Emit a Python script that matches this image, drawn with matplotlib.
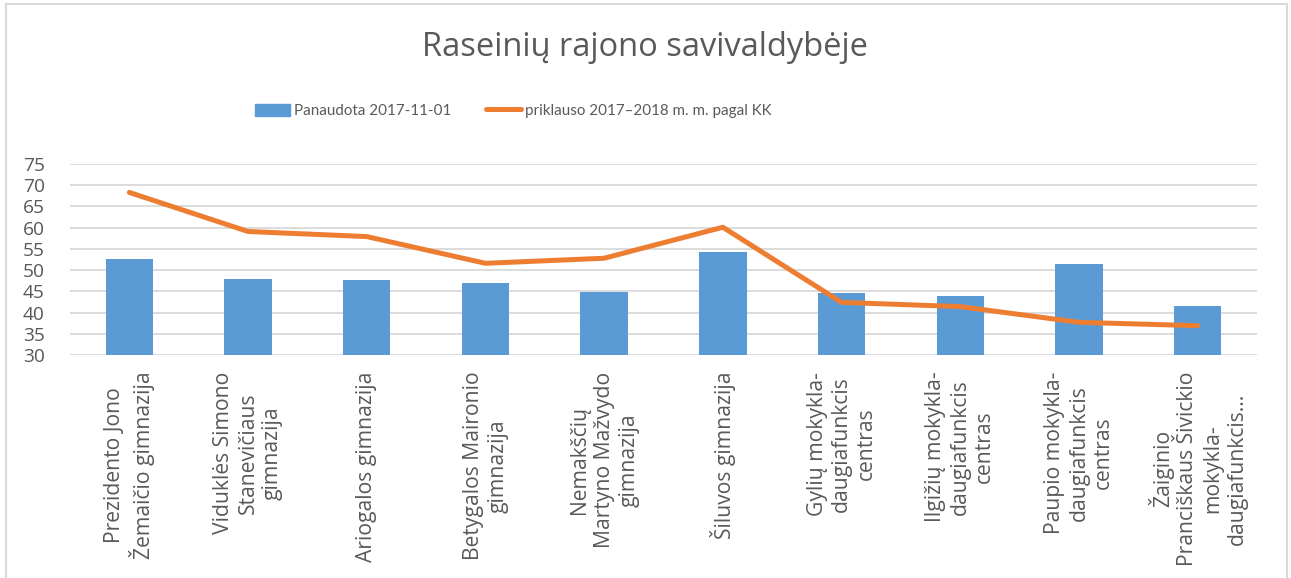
import matplotlib.pyplot as plt
import numpy as np
from matplotlib.patches import Rectangle
from matplotlib.lines import Line2D

schools = [
    "Prezidento Jono\nŽemaičio gimnazija",
    "Viduklės Simono\nStanevičiaus\ngimnazija",
    "Ariogalos gimnazija",
    "Betygalos Maironio\ngimnazija",
    "Nemakščių\nMartyno Mažvydo\ngimnazija",
    "Šiluvos gimnazija",
    "Gylių mokykla-\ndaugiafunkcis\ncentras",
    "Ilgižių mokykla-\ndaugiafunkcis\ncentras",
    "Paupio mokykla-\ndaugiafunkcis\ncentras",
    "Žaiginio\nPranciškaus Šivickio\nmokykla-\ndaugiafunkcis...",
]
used = [52.6, 47.9, 47.7, 46.9, 44.8, 54.3, 44.7, 43.8, 51.4, 41.5]
belongs = [68.3, 59.1, 57.9, 51.6, 52.8, 60.1, 42.4, 41.4, 37.7, 36.9]

bar_label = "Panaudota 2017-11-01"
line_label = "priklauso 2017–2018 m. m. pagal KK"

blue = "#5b9bd5"
orange = "#ed7d31"
text_col = "#595959"
grid_col = "#d9d9d9"

fig = plt.figure(figsize=(12.91, 5.78), dpi=100)
ax = fig.add_axes([70 / 1291, 1 - 355 / 578, 1187 / 1291, (355 - 164) / 578])

x = np.arange(len(schools))
ax.bar(x, used, width=0.4, color=blue, zorder=2)
ax.plot(x, belongs, color=orange, lw=3.6, solid_capstyle="round",
        solid_joinstyle="round", zorder=3)

ax.set_xlim(-0.5, len(schools) - 0.5)
ax.set_ylim(30, 75)
ax.set_yticks(range(30, 80, 5))
ax.yaxis.grid(True, color=grid_col, lw=1.3, zorder=0)
ax.set_axisbelow(True)
for s in ax.spines.values():
    s.set_visible(False)
ax.tick_params(axis="both", length=0, colors=text_col)
ax.tick_params(axis="y", pad=34)
ax.set_yticklabels([str(v) for v in range(30, 80, 5)], family="Open Sans",
                   fontsize=13.8, color=text_col, ha="left")
ax.set_xticks(x)
ax.set_xticklabels(schools, rotation=90, family="Open Sans", fontsize=15.2,
                   color=text_col, ha="center", va="top", multialignment="center",
                   linespacing=1.22)
ax.tick_params(axis="x", pad=12)

fig.text(0.5, 1 - 48 / 578, "Raseinių rajono savivaldybėje", ha="center", va="center",
         fontsize=23.5, color=text_col, family="Open Sans")

handles = [Rectangle((0, 0), 1, 1, color=blue),
           Line2D([], [], color=orange, lw=3.6, solid_capstyle="round")]
fig.legend(handles, [bar_label, line_label], loc="center", ncol=2,
           bbox_to_anchor=(513 / 1291, 1 - 111 / 578), frameon=False,
           prop={"family": "Lato", "size": 10.9},
           labelcolor=text_col, handlelength=2.3, handleheight=0.9,
           handletextpad=0.27, columnspacing=2.3)

fig.patches.append(Rectangle((6 / 1291, -0.01), (1287 - 6) / 1291, 1 - 4 / 578 + 0.01,
                             transform=fig.transFigure, fill=False,
                             edgecolor=grid_col, lw=1.5))

fig.savefig("out.png", dpi=100)
